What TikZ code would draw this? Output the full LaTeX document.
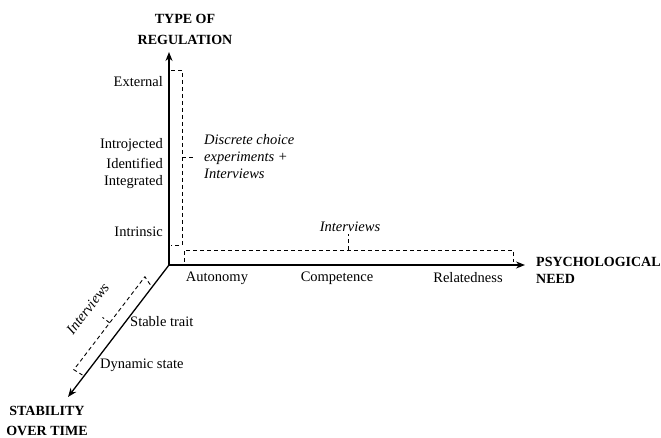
\documentclass[tikz,border=0pt]{standalone}
\usepackage{fontspec}
\setmainfont{Liberation Serif}
\usetikzlibrary{arrows.meta}

\begin{document}
\begin{tikzpicture}[x=1pt, y=1pt,
  every node/.style={font=\fontsize{14.5}{17}\selectfont, inner sep=1pt},
  axis/.style={line width=1.3pt, -{Stealth[length=9pt, width=7pt]}},
  bracket/.style={line width=0.9pt, dash pattern=on 4pt off 3pt},
  title/.style={font=\fontsize{14}{21}\selectfont\bfseries, align=center},
  lvl/.style={anchor=east},
  method/.style={font=\fontsize{14.5}{17}\selectfont\itshape}]
\useasboundingbox (0,0) rectangle (661,438);

% axes
\coordinate (O)    at (169,173);
\coordinate (ytop) at (169,386);
\coordinate (xend) at (525,173);
\coordinate (zend) at (68,41);
\draw[axis] (O) -- (ytop);
\draw[axis] (O) -- (xend);
\draw[axis] (O) -- (zend);

\node[title] (TR) at (185,409) {TYPE OF\\REGULATION};
\node[title, align=left, anchor=west, font=\fontsize{14}{17}\selectfont\bfseries] (PN) at (535,168) {PSYCHOLOGICAL\\NEED};
\node[title, font=\fontsize{14}{20}\selectfont\bfseries] (ST) at (47,17) {STABILITY\\OVER TIME};

% type of regulation
\node[lvl] (ext) at (164,356) {External};
\node[lvl] (inj) at (164,293) {Introjected};
\node[lvl] (idf) at (164,275) {Identified};
\node[lvl] (itg) at (164,256) {Integrated};
\node[lvl] (itr) at (164,206) {Intrinsic};

% psychological need
\node (aut) at (217,160) {Autonomy};
\node (com) at (337,160) {Competence};
\node (rel) at (468,160) {Relatedness};

% stability over time
\node[anchor=west] (trait) at (129,116) {Stable trait};
\node[anchor=west] (state) at (99,73) {Dynamic state};

% methods
\draw[bracket] (171,368) -- (182,368) -- (182,193) -- (171,193);
\draw[bracket] (182,281) -- (193,281);
\node[method, align=left, anchor=west] (dce) at (203,281) {Discrete choice\\experiments +\\Interviews};

\draw[bracket] (184,176) -- (184,188) -- (513,188) -- (513,176);
\draw[bracket] (348,188) -- (348,204);
\node[method] (intx) at (350,211) {Interviews};

\begin{scope}[shift={(O)}, rotate=232.6]
\draw[bracket] (27,-3) -- (24,-12) -- (141,-12) -- (140,-2);
\draw[bracket] (82,-12) -- (82,-21);
\node[method, rotate=52.6] (intz) at (84,-38) {Interviews};
\end{scope}
\end{tikzpicture}
\end{document}
